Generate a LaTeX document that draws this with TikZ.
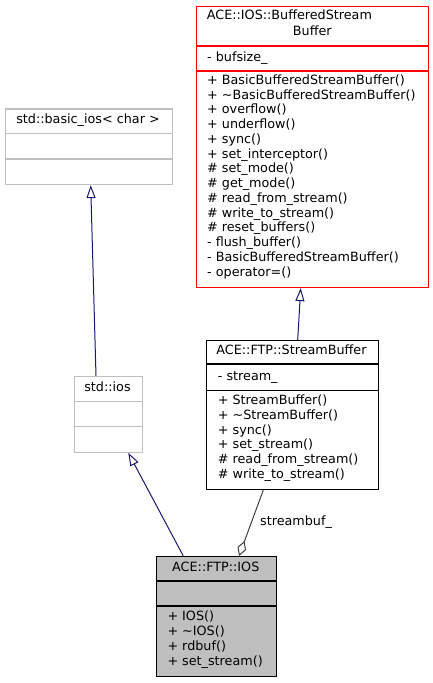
\documentclass[tikz,border=0pt]{standalone}
\usepackage{fontspec}
\setmainfont{DejaVu Sans}
\usetikzlibrary{arrows.meta}
\definecolor{inhblue}{HTML}{191970}
\definecolor{boxgrey}{HTML}{BFBFBF}
\definecolor{agggrey}{HTML}{404040}
\tikzset{
  txt/.style={inner sep=0pt, font=\fontsize{12.8}{14.8}\selectfont},
  umlbox/.style={draw, line width=1.1bp, inner sep=0pt, anchor=north west},
  inh/.style={draw=inhblue, line width=1bp, -{Triangle[open, length=13bp, width=9bp, fill=white]}},
  agg/.style={draw=agggrey, line width=1bp, -{Diamond[open, length=16bp, width=9bp, fill=white]}},
}
\begin{document}
\begin{tikzpicture}[x=1bp, y=-1bp]
\useasboundingbox (0,0) rectangle (433,683);
% ---- boxes
\node[umlbox, draw=red, minimum width=232bp, minimum height=281bp] (rb) at (195.5,6) {};
\draw[red, line width=1.1bp] (195.5,46) -- (427.5,46) (195.5,71) -- (427.5,71);
\node[umlbox, draw=boxgrey, minimum width=167bp, minimum height=75.5bp] (bi) at (4.5,108.5) {};
\draw[boxgrey, line width=1.1bp] (4.5,133.5) -- (171.5,133.5) (4.5,159) -- (171.5,159);
\node[umlbox, draw=boxgrey, minimum width=68bp, minimum height=75.7bp] (sio) at (73.5,376) {};
\draw[boxgrey, line width=1.1bp] (73.5,401.7) -- (141.5,401.7) (73.5,426.7) -- (141.5,426.7);
\node[umlbox, draw=black, minimum width=172bp, minimum height=149bp] (sb) at (205.5,340) {};
\draw[black, line width=1.1bp] (205.5,364) -- (377.5,364) (205.5,390.7) -- (377.5,390.7);
\node[umlbox, draw=black, fill=boxgrey, minimum width=120.5bp, minimum height=119.5bp] (ios) at (155.5,556) {};
\draw[black, line width=1.1bp] (155.5,581) -- (276,581) (155.5,606) -- (276,606);
% ---- texts: ACE::IOS::BufferedStreamBuffer
\node[txt, anchor=mid west] (rt1) at (206.7,16.7) {ACE::IOS::BufferedStream};
\node[txt, anchor=mid] (rt2) at (312.3,32.3) {Buffer};
\node[txt, anchor=mid west] (ra) at (207,58.3) {- bufsize\_};
\foreach [count=\i from 0] \t in {{+ BasicBufferedStreamBuffer()},{+ \textasciitilde BasicBufferedStreamBuffer()},{+ overflow()},{+ underflow()},{+ sync()},{+ set\_interceptor()},{\# set\_mode()},{\# get\_mode()},{\# read\_from\_stream()},{\# write\_to\_stream()},{\# reset\_buffers()},{- flush\_buffer()},{- BasicBufferedStreamBuffer()},{- operator=()}}
  \node[txt, anchor=mid west] (rm\i) at (207,{81.7+14.75*\i}) {\t};
% std::basic_ios
\node[txt, anchor=mid] (bit) at (88,120.7) {std::basic\_ios< char >};
% std::ios
\node[txt, anchor=mid] (siot) at (107.5,388.3) {std::ios};
% StreamBuffer
\node[txt, anchor=mid] (sbt) at (291.5,351.7) {ACE::FTP::StreamBuffer};
\node[txt, anchor=mid west] (sba) at (217.7,377.3) {- stream\_};
\foreach [count=\i from 0] \t in {{+ StreamBuffer()},{+ \textasciitilde StreamBuffer()},{+ sync()},{+ set\_stream()},{\# read\_from\_stream()},{\# write\_to\_stream()}}
  \node[txt, anchor=mid west] (sbm\i) at (217.7,{401.7+14.8*\i}) {\t};
% IOS
\node[txt, anchor=mid] (iost) at (215.8,568.3) {ACE::FTP::IOS};
\foreach [count=\i from 0] \t in {{+ IOS()},{+ \textasciitilde IOS()},{+ rdbuf()},{+ set\_stream()}}
  \node[txt, anchor=mid west] (iosm\i) at (167.3,{617.3+15*\i}) {\t};
% ---- connectors
\draw[inh] ([xshift=92.2bp]sb.north west) -- ([xshift=105.2bp]rb.south west);
\draw[inh] ([xshift=22.5bp]sio.north west) -- ([xshift=86.2bp]bi.south west);
\draw[inh] ([xshift=27.8bp]ios.north west) -- ([xshift=54.8bp]sio.south west);
\draw[agg] ([xshift=57.8bp]sb.south west) -- ([xshift=83.5bp]ios.north west);
\node[txt, anchor=mid] (lbl) at (296,522.3) {streambuf\_};
\end{tikzpicture}
\end{document}
